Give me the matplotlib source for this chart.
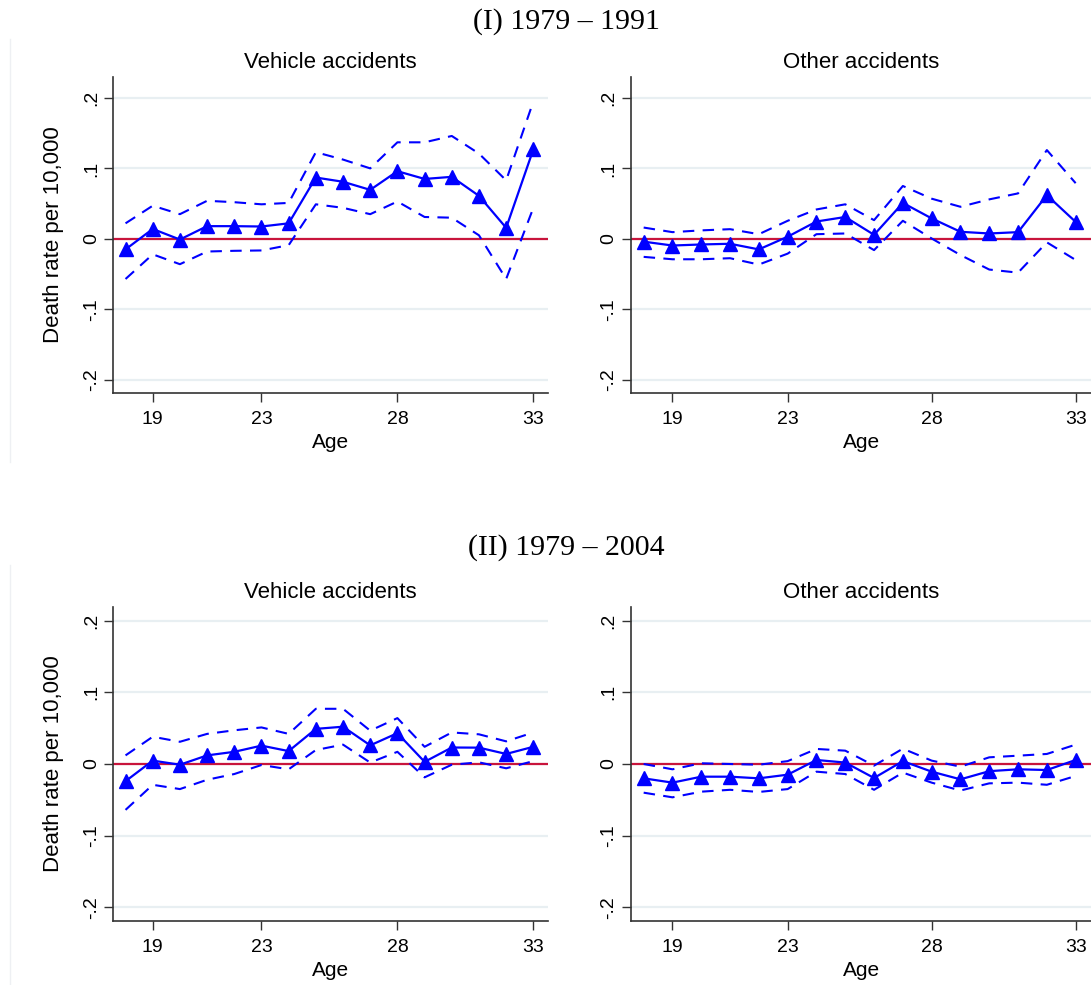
import matplotlib
matplotlib.use("Agg")
import matplotlib.pyplot as plt
from matplotlib.lines import Line2D
import numpy as np

ages = list(range(18, 34))
xticks = [19, 23, 28, 33]
yticks = [-0.2, -0.1, 0.0, 0.1, 0.2]
ytick_labels = ["-.2", "-.1", "0", ".1", ".2"]

# Period I (1979-1991) - Vehicle accidents
veh1_est = [-0.015, 0.014, -0.001, 0.018, 0.018, 0.0175, 0.022, 0.087, 0.081, 0.0695, 0.096, 0.085, 0.088, 0.061, 0.0156, 0.127]
veh1_hi = [0.022, 0.047, 0.035, 0.054, 0.052, 0.049, 0.051, 0.123, 0.1125, 0.100, 0.137, 0.137, 0.146, 0.121, 0.083, 0.195]
veh1_lo = [-0.057, -0.022, -0.036, -0.018, -0.017, -0.0165, -0.009, 0.049, 0.044, 0.035, 0.053, 0.031, 0.030, 0.005, -0.057, 0.044]

# Period I - Other accidents
oth1_est = [-0.004, -0.0095, -0.008, -0.007, -0.015, 0.003, 0.0246, 0.031, 0.0057, 0.051, 0.029, 0.010, 0.0076, 0.0095, 0.062, 0.024]
oth1_hi = [0.016, 0.0095, 0.012, 0.0137, 0.0066, 0.0256, 0.0417, 0.049, 0.0265, 0.075, 0.057, 0.0455, 0.056, 0.0645, 0.126, 0.079]
oth1_lo = [-0.0256, -0.029, -0.029, -0.0275, -0.0365, -0.021, 0.0066, 0.0076, -0.016, 0.0256, 0.0005, -0.023, -0.0436, -0.048, -0.005, -0.030]

# Period II (1979-2004) - Vehicle accidents
veh2_est = [-0.024, 0.0047, -0.001, 0.012, 0.017, 0.0256, 0.018, 0.049, 0.052, 0.026, 0.043, 0.003, 0.023, 0.0228, 0.014, 0.024]
veh2_hi = [0.012, 0.038, 0.031, 0.042, 0.047, 0.051, 0.042, 0.077, 0.077, 0.0465, 0.064, 0.024, 0.044, 0.0414, 0.0316, 0.044]
veh2_lo = [-0.064, -0.029, -0.035, -0.022, -0.014, -0.0014, -0.0074, 0.0195, 0.027, 0.002, 0.017, -0.0186, -0.001, 0.0023, -0.006, 0.004]

# Period II - Other accidents
oth2_est = [-0.020, -0.026, -0.0177, -0.0177, -0.020, -0.0149, 0.0056, 0.002, -0.0195, 0.004, -0.0107, -0.0214, -0.010, -0.0074, -0.0084, 0.0056]
oth2_hi = [0.0, -0.0074, 0.001, 0.0, -0.001, 0.004, 0.021, 0.0186, -0.0023, 0.0214, 0.0047, -0.0037, 0.0093, 0.0116, 0.014, 0.027]
oth2_lo = [-0.040, -0.0465, -0.0386, -0.036, -0.039, -0.035, -0.0107, -0.014, -0.036, -0.012, -0.026, -0.037, -0.027, -0.026, -0.029, -0.0167]

period_titles = ["(I) 1979 \u2013 1991", "(II) 1979 \u2013 2004"]
panel_titles = ["Vehicle accidents", "Other accidents"]
ylabel = "Death rate per 10,000"
xlabel = "Age"

W, H = 1091, 985
fig = plt.figure(figsize=(W / 100, H / 100), dpi=100)
fig.patch.set_facecolor("white")

SANS = ["Liberation Sans", "Arial", "DejaVu Sans"]
SERIF = ["Liberation Serif", "Times New Roman", "DejaVu Serif"]

BLUE = "#0000ff"
RED = "#c8143c"
GRID = "#e8eff2"
SPINE = "#333333"


def ax_px(left, right, top, bottom):
    return fig.add_axes([left / W, 1 - bottom / H, (right - left) / W, (bottom - top) / H])


rows = [
    dict(top=77.5, bottom=392.7, ylim=(-0.2184, 0.229), data=[(veh1_est, veh1_hi, veh1_lo), (oth1_est, oth1_hi, oth1_lo)], ptitle_y=22, border=(39, 462)),
    dict(top=606.7, bottom=920.5, ylim=(-0.2183, 0.2194), data=[(veh2_est, veh2_hi, veh2_lo), (oth2_est, oth2_hi, oth2_lo)], ptitle_y=548, border=(565, 985)),
]
cols = [dict(left=113.3, right=548.3), dict(left=630.7, right=1091.5)]

for r, row in enumerate(rows):
    fig.text(566 / W, 1 - row["ptitle_y"] / H, period_titles[r], family=SERIF, fontsize=21.5,
             ha="center", va="center")
    # faint graph border
    fig.add_artist(Line2D([9.5 / W, 9.5 / W], [1 - row["border"][0] / H, 1 - row["border"][1] / H],
                          color="#eef0f3", lw=1.0, transform=fig.transFigure))
    for c, col in enumerate(cols):
        ax = ax_px(col["left"], col["right"], row["top"], row["bottom"])
        est, hi, lo = row["data"][c]
        ax.set_xlim(17.55, 33.55)
        ax.set_ylim(*row["ylim"])
        for yv in yticks:
            ax.axhline(yv, color=GRID, lw=1.6, zorder=0)
        ax.axhline(0, color=RED, lw=1.6, zorder=1)
        ax.plot(ages, hi, color=BLUE, lw=1.5, dashes=(5.5, 4.0), zorder=2)
        ax.plot(ages, lo, color=BLUE, lw=1.5, dashes=(5.5, 4.0), zorder=2)
        ax.plot(ages, est, color=BLUE, lw=1.6, marker="^", markersize=9.5,
                markerfacecolor=BLUE, markeredgecolor=BLUE, zorder=3)
        ax.set_xticks(xticks)
        ax.set_xticklabels([str(t) for t in xticks], family=SANS, fontsize=14)
        ax.set_yticks(yticks)
        ax.set_yticklabels(ytick_labels, family=SANS, fontsize=14, rotation=90, va="center")
        ax.tick_params(axis="both", length=6.5, width=1.0, color=SPINE)
        ax.tick_params(axis="x", pad=6.5)
        ax.tick_params(axis="y", pad=3.0)
        for s in ["top", "right"]:
            ax.spines[s].set_visible(False)
        for s in ["left", "bottom"]:
            ax.spines[s].set_color(SPINE)
            ax.spines[s].set_linewidth(1.2)
        xc = (col["left"] + col["right"]) / 2
        fig.text(xc / W, 1 - (row["top"] - 14.5) / H, panel_titles[c], family=SANS, fontsize=16,
                 ha="center", va="center")
        fig.text(xc / W, 1 - (row["bottom"] + 49.5) / H, xlabel, family=SANS, fontsize=15,
                 ha="center", va="center")
        if c == 0:
            yc = (row["top"] + row["bottom"]) / 2
            fig.text(54 / W, 1 - yc / H, ylabel, family=SANS, fontsize=16, rotation=90,
                     ha="center", va="center")

fig.savefig("out.png", dpi=100)
